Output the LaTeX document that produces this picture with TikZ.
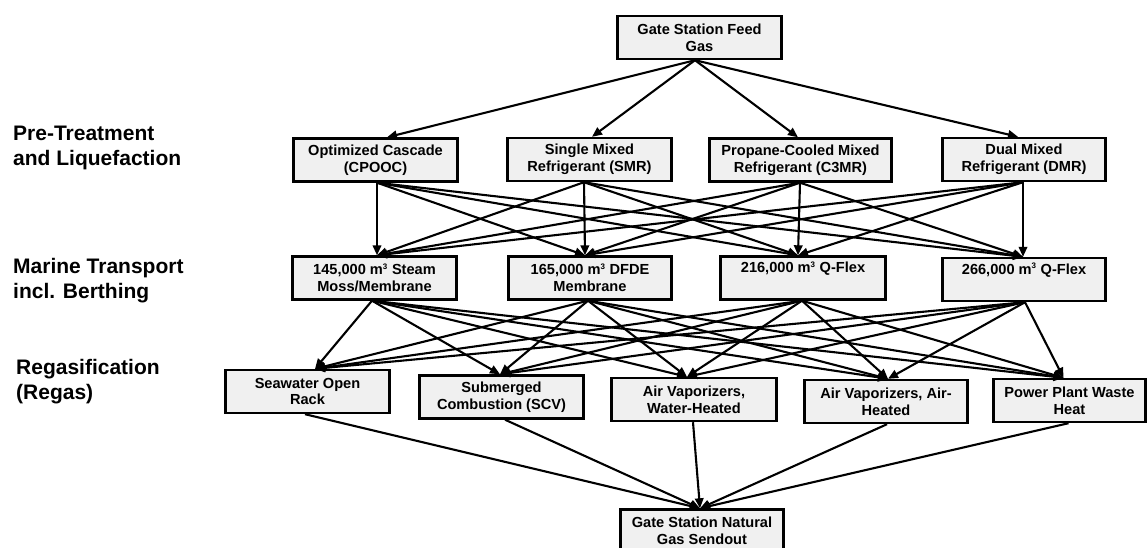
\documentclass[tikz,border=0pt]{standalone}
\usepackage{fontspec}
\setmainfont{Liberation Sans}
\usetikzlibrary{arrows.meta}
\definecolor{boxfill}{RGB}{240,240,240}
\newcommand{\cubic}{\textsuperscript{\fontsize{8}{8}\selectfont 3}}
\begin{document}
\begin{tikzpicture}[x=1pt,y=-1pt,
  box/.style={draw=black, line width=2.4pt, fill=boxfill, align=center, inner sep=0pt,
    font=\bfseries\fontsize{14.6}{16.7}\selectfont, minimum height=43pt},
  lbl/.style={anchor=north west, align=left, inner sep=0pt,
    font=\bfseries\fontsize{21}{25}\selectfont},
  arr/.style={line width=2.1pt, -{Triangle[length=10pt,width=8.5pt]}}]
\useasboundingbox (0,0) rectangle (1148,547);
% left labels
\node[lbl] (l1) at (13,126) {Pre-Treatment\\and Liquefaction};
\node[lbl] (l2) at (13,258) {Marine Transport\\incl. Berthing};
\node[lbl] (l3) at (16,359) {Regasification\\(Regas)};
% top
\node[box, minimum width=164pt] (top) at (699.5,37.5) {Gate Station Feed\\Gas};
% row 2
\node[box, minimum width=164pt] (opt) at (375.5,160) {Optimized Cascade\\(CPOOC)};
\node[box, minimum width=164pt] (smr) at (589.5,159.5) {Single Mixed\\Refrigerant (SMR)};
\node[box, minimum width=182pt] (cmr) at (800.5,160) {Propane-Cooled Mixed\\Refrigerant (C3MR)};
\node[box, minimum width=163pt] (dmr) at (1024,159.5) {Dual Mixed\\Refrigerant (DMR)};
% row 3
\node[box, minimum width=164pt] (ma) at (374.5,278) {145,000 m\cubic{} Steam\\Moss/Membrane};
\node[box, minimum width=163pt] (mb) at (590,278) {165,000 m\cubic{} DFDE\\Membrane};
\node[box, minimum width=165pt] (mc) at (803,278) {216,000 m\cubic{} Q-Flex\\\strut};
\node[box, minimum width=163pt] (md) at (1024,279.5) {266,000 m\cubic{} Q-Flex\\\strut};
% row 4
\node[box, minimum width=164pt] (sw) at (307.5,391.5) {Seawater Open\\Rack};
\node[box, minimum width=164pt] (scv) at (501.5,397) {Submerged\\Combustion (SCV)};
\node[box, minimum width=165pt] (aw) at (694,399.5) {Air Vaporizers,\\Water-Heated};
\node[box, minimum width=163pt] (aa) at (886,401.5) {Air Vaporizers, Air-\\Heated};
\node[box, minimum width=152pt] (pp) at (1069.5,400.5) {Power Plant Waste\\Heat};
% bottom
\node[box, minimum width=163pt] (bot) at (702,531) {Gate Station Natural\\Gas Sendout};
% connectors: top -> row 2
\foreach \b/\sb in {opt/11.5, smr/2.5, cmr/-2.5, dmr/-6}
  \draw[arr] ([xshift=-4.5pt]top.south) -- ([xshift=\sb pt]\b.north);
% row 2 -> row 3
\foreach \a/\sa in {opt/1.5, smr/-5.5, cmr/-0.5, dmr/-1}
  \foreach \b/\sb in {ma/2.5, mb/-5, mc/-5, md/-1}
    \draw[arr] ([xshift=\sa pt]\a.south) -- ([xshift=\sb pt]\b.north);
% row 3 -> row 4
\foreach \a/\sa in {ma/-2.5, mb/-2, mc/-1, md/1}
  \foreach \b/\sb in {sw/7.5, scv/-1.5, aw/-7, aa/2, pp/-6}
    \draw[arr] ([xshift=\sa pt]\a.south) -- ([xshift=\sb pt]\b.north);
% row 4 -> bottom
\foreach \a/\sa in {sw/-2.5, scv/3.5, aw/-1, aa/1, pp/-1}
  \draw[arr] ([xshift=\sa pt]\a.south) -- ([xshift=-2pt]bot.north);
\end{tikzpicture}
\end{document}
